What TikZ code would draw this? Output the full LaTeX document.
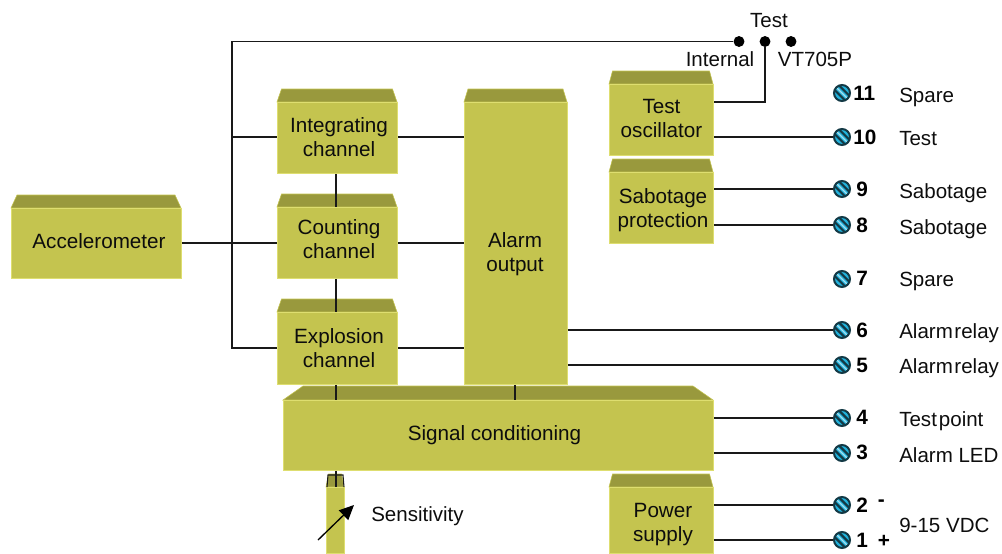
\documentclass[tikz,border=0pt]{standalone}
\usepackage{fontspec}
\setmainfont{Liberation Sans}
\usetikzlibrary{arrows.meta,calc}
\definecolor{boxfront}{HTML}{C4C44F}
\definecolor{boxtop}{HTML}{99993D}
\definecolor{boxedge}{HTML}{DEDE70}
\definecolor{screwblue}{HTML}{22B2DC}
\definecolor{screwdark}{HTML}{143A46}
\tikzset{
  txt/.style={font=\fontsize{15.5pt}{18pt}\selectfont,align=center,text=black!95,inner sep=0pt},
  lbl/.style={font=\fontsize{15.4pt}{18pt}\selectfont,text=black!95,inner sep=0pt},
  num/.style={font=\fontsize{15.6pt}{18pt}\bfseries\selectfont,text=black,inner sep=0pt,anchor=west},
  wire/.style={draw=black!90,line width=.95pt},
  dot/.style={circle,fill=black,inner sep=0pt,minimum size=8.2pt},
  screw/.style={circle,inner sep=0pt,minimum size=12.5pt},
}
\newcommand{\blockbox}[7]{%
  % name, x1, y1, x2, y2, top y, inset
  \fill[boxtop,draw=boxfront,line width=.4pt] (#2,#3) -- (#2+#7,#6) -- (#4-#7,#6) -- (#4,#3) -- cycle;
  \node[fill=boxfront,draw=boxedge,line width=.6pt,inner sep=0pt,minimum width={(#4-#2)*.75pt},minimum height={(#5-#3)*.75pt},anchor=north west] (#1) at (#2,#3) {};
}
\newcommand{\screwat}[3]{%
  % name, x, y
  \node[screw] (#1) at (#2,#3) {};
  \begin{scope}
    \clip (#2,#3) circle (8);
    \fill[screwblue] (#2,#3) circle (8);
    \draw[screwdark,line width=1.6pt] (#2-10,#3-14.5) -- (#2+10,#3+5.5);
    \draw[screwdark,line width=1.6pt] (#2-10,#3-5.5) -- (#2+10,#3+14.5);
    \draw[white!60!screwblue,line width=.9pt] (#2-9,#3-9) -- (#2+9,#3+9);
  \end{scope}
  \draw[screwdark,line width=1.5pt] (#2,#3) circle (8);
}
\begin{document}
\begin{tikzpicture}[x=.75pt,y=-.75pt]
\useasboundingbox (0,0) rectangle (1002,553);
\blockbox{acc}{11}{208}{181}{278}{195}{6}
\blockbox{int}{277}{102}{397}{173}{89}{4.5}
\blockbox{cnt}{277}{207}{397}{278}{194}{4.5}
\blockbox{exp}{277}{312}{397}{384}{299}{4.5}
\blockbox{alm}{464}{102}{567}{384}{89}{4}
\blockbox{sig}{283}{400}{713}{470}{386}{20}
\blockbox{osc}{609}{84}{713}{155}{71}{3.5}
\blockbox{sab}{609}{172}{713}{243}{159}{3.5}
\blockbox{pwr}{609}{487}{713}{553}{474}{3.5}
\blockbox{sen}{326}{487}{344}{553}{474}{2.5}
% block captions
\node[txt] (tacc) at (99,241) {Accelerometer};
\node[txt] (tinta) at (339,137) {Integrating\\channel};
\node[txt] (tcnt) at (339,239) {Counting\\channel};
\node[txt] (texp) at (339,348) {Explosion\\channel};
\node[txt] (talm) at (515,254) {Alarm\\output};
\node[txt] (tsig) at (494.5,435) {Signal conditioning};
\node[txt] (tosc) at (661.5,118.5) {Test\\oscillator};
\node[txt] (tsab) at (663,210) {Sabotage\\protection};
\node[txt] (tpwr) at (663,525) {Power\\supply};
% terminals
\screwat{s11}{842}{93}
\screwat{s10}{842}{137}
\screwat{s9}{842}{189}
\screwat{s8}{842}{225}
\screwat{s7}{842}{279}
\screwat{s6}{842}{330}
\screwat{s5}{842}{365}
\screwat{s4}{842}{418}
\screwat{s3}{842}{453}
\screwat{s2}{842}{505}
\screwat{s1}{842}{540}
% switch
\node[dot] (d1) at (739,41.5) {};
\node[dot] (d2) at (765,41.5) {};
\node[dot] (d3) at (791,41.5) {};
\coordinate (busl) at (232,41.5);
\coordinate (oscy) at (713,102);
\coordinate (inty) at (397,137);
\coordinate (expy) at (397,348);
% wires
\draw[wire] (d1) -- (busl) -- (busl |- expy) -- (exp.west |- expy);
\draw[wire] (busl |- inty) -- (int.west |- inty);
\draw[wire] (acc.east |- cnt.west) -- (cnt.west);
\draw[wire] (int.east |- inty) -- (alm.west |- inty);
\draw[wire] (cnt.east) -- (alm.west |- cnt.east);
\draw[wire] (exp.east |- expy) -- (alm.west |- expy);
\draw[wire] (d2) |- (osc.east |- oscy);
\coordinate (vx) at (336,0);
\coordinate (ax) at (515,0);
\draw[wire] (vx |- int.south) -- (vx |- cnt.north);
\draw[wire] (vx |- cnt.south) -- (vx |- exp.north);
\draw[wire] (vx |- exp.south) -- (vx |- sig.north);
\draw[wire] (ax |- alm.south) -- (ax |- sig.north);
\draw[wire] (vx |- sig.south) -- (vx |- sen.north);
\draw[wire,line width=.8pt] (327,487) -- (328,475) -- (343,475) -- (344,487);
\draw[wire] (osc.east |- s10) -- (s10);
\draw[wire] (sab.east |- s9) -- (s9);
\draw[wire] (sab.east |- s8) -- (s8);
\draw[wire] (alm.east |- s6) -- (s6);
\draw[wire] (alm.east |- s5) -- (s5);
\draw[wire] (sig.east |- s4) -- (s4);
\draw[wire] (sig.east |- s3) -- (s3);
\draw[wire] (pwr.east |- s2) -- (s2);
\draw[wire] (pwr.east |- s1) -- (s1);
% sensitivity arrow
\coordinate (arra) at (318,540);
\coordinate (arrb) at (354,505);
\draw[black,line width=1pt,-{Triangle[length=11pt,width=10pt]}] (arra) -- (arrb);
% labels
\node[lbl] (tsen) at (417.5,516) {Sensitivity};
\node[lbl] (ttest) at (769,21) {Test};
\node[lbl] (tint) at (720,59) {Internal};
\node[lbl] (tvt) at (815,59) {VT705P};
\node[num] (n11) at (853,93) {11};
\node[num] (n10) at (853,137) {10};
\node[num] (n9) at (856,189) {9};
\node[num] (n8) at (856,225) {8};
\node[num] (n7) at (856,278) {7};
\node[num] (n6) at (856,330) {6};
\node[num] (n5) at (856,365) {5};
\node[num] (n4) at (856,417) {4};
\node[num] (n3) at (856,452) {3};
\node[num] (n2) at (856,505) {2};
\node[num] (n1) at (856,540) {1};
\node[num] (nm) at (877.5,503) {-};
\node[num] (np) at (877.5,541) {+};
\tikzset{rl/.style={lbl,anchor=west}}
\node[rl] (l11) at (899,97) {Spare};
\node[rl] (l10) at (899,139) {Test};
\node[rl] (l9) at (899,193) {Sabotage};
\node[rl] (l8) at (899,229) {Sabotage};
\node[rl] (l7) at (899,281) {Spare};
\node[rl] (l6) at (899,333) {Alarm\kern1.2pt relay};
\node[rl] (l5) at (899,368) {Alarm\kern1.2pt relay};
\node[rl] (l4) at (899,421) {Test\kern1.5pt point};
\node[rl] (l3) at (899,455) {Alarm LED};
\node[rl] (l21) at (899,525) {9-15 VDC};
\end{tikzpicture}
\end{document}
